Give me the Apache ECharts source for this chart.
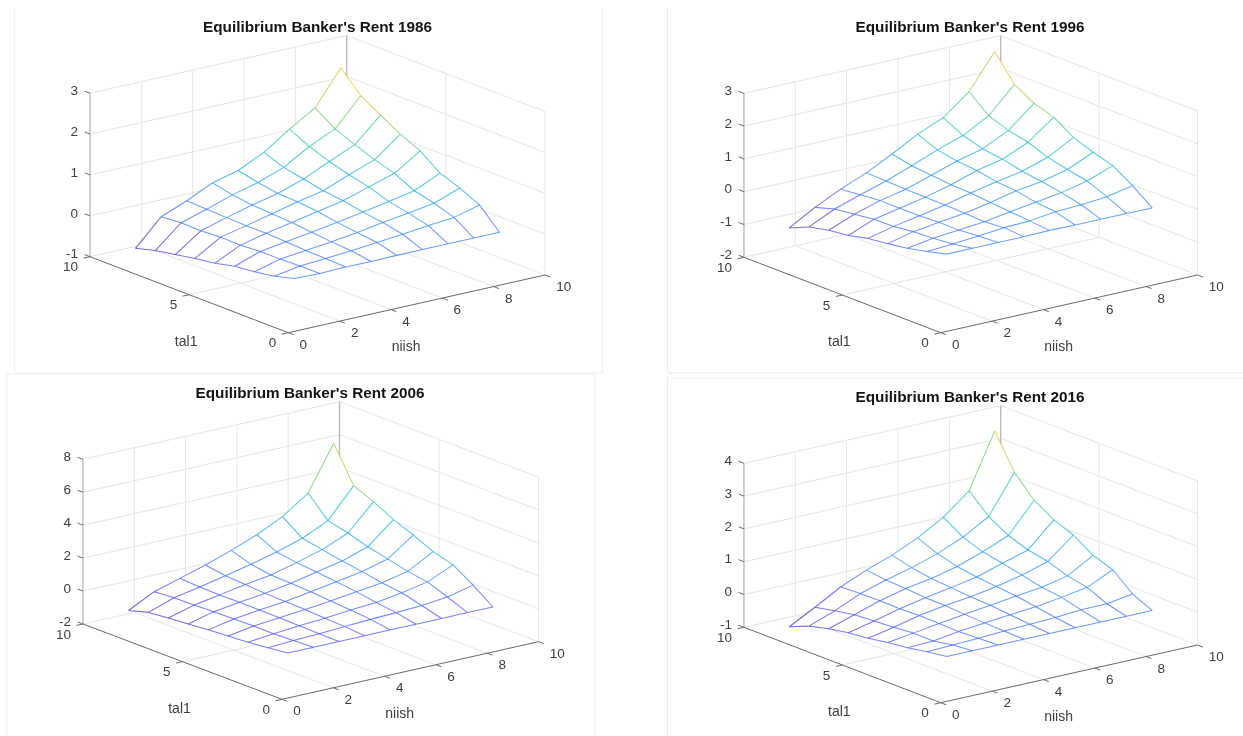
<!DOCTYPE html>
<html>
<head>
<meta charset="utf-8">
<style>html,body{margin:0;padding:0;background:#fff}#c{width:1243px;height:736px;filter:blur(0.35px)}</style>
<script src="https://cdn.jsdelivr.net/npm/echarts@6/dist/echarts.min.js"></script>
</head>
<body>
<div id="c"></div>
<script>
// Mesh nodes: niish = 1..9 (columns), tal1 = 1..9 (rows)
const niishNodes = [1,2,3,4,5,6,7,8,9];
const tal1Nodes = [1,2,3,4,5,6,7,8,9];

const rent1986 = [
 [0,-0.02,0,-0.01,0,0,0,0,0],
 [-0.13,-0.02,0.02,0.07,0.13,0.19,0.26,0.32,0.48],
 [-0.21,-0.04,0.03,0.10,0.19,0.29,0.38,0.48,0.71],
 [-0.26,-0.04,0.06,0.15,0.25,0.36,0.48,0.60,0.89],
 [-0.37,-0.07,0.08,0.20,0.33,0.45,0.65,0.84,1.25],
 [-0.44,-0.06,0.08,0.23,0.38,0.51,0.76,0.99,1.47],
 [-0.53,-0.09,0.09,0.26,0.40,0.61,0.90,1.17,1.75],
 [-0.62,-0.08,0.11,0.32,0.48,0.71,1.08,1.37,2.04],
 [-0.75,-0.12,0.13,0.43,0.59,0.89,1.32,1.70,2.54]
];
const rent1996 = [
 [-0.01,-0.01,-0.01,-0.01,0.01,0,0,0,-0.01],
 [-0.16,-0.11,-0.04,0.04,0.07,0.17,0.21,0.28,0.44],
 [-0.29,-0.16,-0.09,-0.01,0.12,0.23,0.35,0.53,0.82],
 [-0.38,-0.19,-0.08,0.02,0.17,0.35,0.46,0.65,1.00],
 [-0.45,-0.26,-0.11,0.04,0.23,0.40,0.54,0.79,1.22],
 [-0.59,-0.27,-0.11,0.05,0.25,0.51,0.68,1.02,1.61],
 [-0.66,-0.35,-0.11,0.06,0.31,0.57,0.77,1.15,1.80],
 [-0.79,-0.42,-0.16,0.08,0.37,0.68,0.94,1.37,2.15],
 [-1.05,-0.60,-0.22,0.10,0.50,0.93,1.26,1.87,2.92]
];
const rent2006 = [
 [0,0,0,0,0.02,0,0,0.02,0],
 [-0.13,-0.05,0.02,0.10,0.19,0.25,0.33,0.50,0.87],
 [-0.26,-0.09,0.05,0.15,0.30,0.41,0.65,0.96,1.64],
 [-0.34,-0.08,0.08,0.23,0.39,0.61,0.80,1.14,1.99],
 [-0.42,-0.11,0.09,0.25,0.50,0.75,1.02,1.44,2.54],
 [-0.52,-0.12,0.10,0.29,0.55,0.89,1.21,1.72,3.02],
 [-0.61,-0.18,0.09,0.37,0.60,1.00,1.44,2.10,3.65],
 [-0.73,-0.19,0.11,0.45,0.79,1.19,1.67,2.39,4.17],
 [-1.07,-0.28,0.18,0.64,1.18,1.78,2.53,3.61,6.28]
];
const rent2016 = [
 [0,0,0,0,0,0,0,0,0],
 [-0.08,-0.05,-0.02,0.02,0.05,0.08,0.14,0.15,0.27],
 [-0.19,-0.16,-0.05,0.04,0.11,0.18,0.29,0.42,0.78],
 [-0.26,-0.15,-0.03,0.07,0.17,0.28,0.37,0.54,0.99],
 [-0.36,-0.20,-0.02,0.11,0.20,0.34,0.51,0.75,1.38],
 [-0.42,-0.24,-0.04,0.12,0.25,0.40,0.64,0.87,1.61],
 [-0.53,-0.28,-0.03,0.17,0.30,0.49,0.76,1.08,1.98],
 [-0.68,-0.39,-0.04,0.20,0.40,0.65,0.98,1.43,2.60],
 [-0.93,-0.51,-0.07,0.27,0.55,0.90,1.36,1.98,3.63]
];

const titles = ["Equilibrium Banker's Rent 1986","Equilibrium Banker's Rent 1996","Equilibrium Banker's Rent 2006","Equilibrium Banker's Rent 2016"];
const zTicks1986 = [-1,0,1,2,3];
const zTicks1996 = [-2,-1,0,1,2,3];
const zTicks2006 = [-2,0,2,4,6,8];
const zTicks2016 = [-1,0,1,2,3,4];
const niishTicks = [0,2,4,6,8,10];
const tal1Ticks = [0,5,10];
const niishName = 'niish';
const tal1Name = 'tal1';

// Layout of the four panels: frame rectangle, visible frame sides and projected box corners (px)
const panels = [
 {data:rent1986, zTicks:zTicks1986, title:titles[0], frame:[14.7,8,588,365], sides:'lrb', tc:317.5, ty:28,
  front:[288.3,332.7], right:[545,275], left:[90,256.7], zh:163.5},
 {data:rent1996, zTicks:zTicks1996, title:titles[1], frame:[667.5,8,576,365], sides:'lb', tc:970, ty:28,
  front:[941,332.7], right:[1198,275], left:[744,257.3], zh:164},
 {data:rent2006, zTicks:zTicks2006, title:titles[2], frame:[6.8,374,588,362], sides:'ltr', tc:310, ty:394,
  front:[282,699.3], right:[538.5,641.7], left:[83,624], zh:164.7},
 {data:rent2016, zTicks:zTicks2016, title:titles[3], frame:[667.5,378,576,358], sides:'lt', tc:970, ty:398,
  front:[941,702.7], right:[1198,645], left:[744,627.3], zh:164}
];

const parula = [[0.2422,0.1504,0.6603],[0.2810,0.3228,0.9579],[0.1786,0.5289,0.9682],[0.0689,0.6948,0.8394],
 [0.2161,0.7843,0.5923],[0.6720,0.7793,0.2227],[0.9970,0.7659,0.2199],[0.9769,0.9839,0.0805]];
function cmap(t){
  t=Math.max(0,Math.min(1,t))*(parula.length-1);
  const a=Math.floor(t),b=Math.min(a+1,parula.length-1),f=t-a;
  const c=[0,1,2].map(k=>Math.round(255*(parula[a][k]*(1-f)+parula[b][k]*f)));
  return 'rgb('+c.join(',')+')';
}

function projector(p){
  const zmin=p.zTicks[0], zmax=p.zTicks[p.zTicks.length-1];
  const ex=[p.right[0]-p.front[0],p.right[1]-p.front[1]], ey=[p.left[0]-p.front[0],p.left[1]-p.front[1]];
  return function(x,y,z){
    const h=(z-zmin)/(zmax-zmin)*p.zh;
    return [p.front[0]+ex[0]*x/10+ey[0]*y/10-p.frame[0], p.front[1]+ex[1]*x/10+ey[1]*y/10-h-p.frame[1]];
  };
}

const option={animation:false,backgroundColor:'#fff',title:[],grid:[],xAxis:[],yAxis:[],series:[]};
const GRID='#e6e6e6',AXIS='#6a6a6a',TXT='#404040',FONT='"Liberation Sans",Arial,sans-serif';
const STROKES=[GRID,AXIS,'#bcbcbc','#ededed'];

panels.forEach((p,k)=>{
  const P=projector(p), f=p.frame, zs=p.zTicks, zmin=zs[0], zmax=zs[zs.length-1];
  option.title.push({text:p.title,left:p.tc,top:p.ty,padding:0,textAlign:'center',textVerticalAlign:'middle',
    textStyle:{fontFamily:FONT,fontSize:15.3,fontWeight:'bold',color:'#151515'}});
  option.grid.push({left:f[0],top:f[1],width:f[2],height:f[3],show:false});
  option.xAxis.push({type:'value',gridIndex:k,min:0,max:f[2],show:false});
  option.yAxis.push({type:'value',gridIndex:k,min:0,max:f[3],inverse:true,show:false});

  // box, ticks and frame: [u1,v1,u2,v2,kind]
  const seg=[];
  if(p.sides.includes('l')) seg.push([0,0,0,f[3],3]);
  if(p.sides.includes('r')) seg.push([f[2],0,f[2],f[3],3]);
  if(p.sides.includes('t')) seg.push([0,0,f[2],0,3]);
  if(p.sides.includes('b')) seg.push([0,f[3],f[2],f[3],3]);
  const add=(a,b,kind)=>seg.push([...P(...a),...P(...b),kind]);
  zs.forEach(z=>{add([0,10,z],[10,10,z],0);add([10,10,z],[10,0,z],0);});
  niishTicks.slice(1,-1).forEach(x=>{add([x,10,zmin],[x,10,zmax],0);add([x,0,zmin],[x,10,zmin],0);});
  tal1Ticks.slice(1,-1).forEach(y=>{add([10,y,zmin],[10,y,zmax],0);add([0,y,zmin],[10,y,zmin],0);});
  add([10,0,zmin],[10,0,zmax],0);
  add([10,10,zmin],[10,10,zmax],2);
  add([0,10,zmin],[0,10,zmax],2);
  add([0,0,zmin],[10,0,zmin],1);
  add([0,0,zmin],[0,10,zmin],1);
  zs.forEach(z=>add([0,10,z],[0,10.27,z],1));
  niishTicks.forEach(x=>add([x,0,zmin],[x,-0.27,zmin],1));
  tal1Ticks.forEach(y=>add([0,y,zmin],[-0.25,y,zmin],1));
  option.series.push({type:'custom',name:'box'+k,xAxisIndex:k,yAxisIndex:k,silent:true,z:1,data:seg,
    renderItem:(params,api)=>{
      const a=api.coord([api.value(0),api.value(1)]),b=api.coord([api.value(2),api.value(3)]),kd=api.value(4);
      return {type:'line',shape:{x1:a[0],y1:a[1],x2:b[0],y2:b[1]},
        style:{stroke:STROKES[kd],lineWidth:kd===2?1.4:1}};
    }});

  // mesh faces are white and hide the walls behind them
  const all=[].concat(...p.data), lo=Math.min(...all), hi=Math.max(...all);
  const node=(i,j)=>P(niishNodes[i],tal1Nodes[j],p.data[j][i]);
  const cells=[], edges=[], n=niishNodes.length, m=tal1Nodes.length;
  for(let j=m-1;j>=0;j--) for(let i=n-1;i>=0;i--){
    if(i<n-1&&j<m-1) cells.push([...node(i,j),...node(i+1,j),...node(i+1,j+1),...node(i,j+1)]);
    // each edge takes the colour of its lower-index vertex
    if(i<n-1) edges.push([...node(i,j),...node(i+1,j),p.data[j][i]]);
    if(j<m-1) edges.push([...node(i,j),...node(i,j+1),p.data[j][i]]);
  }
  option.series.push({type:'custom',name:'faces'+k,xAxisIndex:k,yAxisIndex:k,silent:true,z:2,data:cells,
    renderItem:(params,api)=>{
      const pts=[0,1,2,3].map(c=>api.coord([api.value(2*c),api.value(2*c+1)]));
      return {type:'polygon',shape:{points:pts},style:{fill:'#fff',stroke:null}};
    }});
  option.series.push({type:'custom',name:p.title,xAxisIndex:k,yAxisIndex:k,silent:true,z:3,data:edges,
    renderItem:(params,api)=>{
      const a=api.coord([api.value(0),api.value(1)]),b=api.coord([api.value(2),api.value(3)]);
      return {type:'line',shape:{x1:a[0],y1:a[1],x2:b[0],y2:b[1]},
        style:{lineWidth:1.05,opacity:0.72,stroke:cmap((api.value(4)-lo)/(hi-lo))}};
    }});

  // text
  const lab=[];
  zs.forEach(z=>{const q=P(0,10,z);lab.push([q[0]-12,q[1]-2,String(z),'right',13.5]);});
  niishTicks.forEach(x=>{const q=P(x,0,zmin);lab.push([q[0]+11.3,q[1]+12.3,String(x),'left',13.5]);});
  tal1Ticks.forEach(y=>{const q=P(0,y,zmin);lab.push([q[0]-12,q[1]+11,String(y),'right',13.5]);});
  const q1=P(5,0,zmin),q2=P(0,5,zmin);
  lab.push([q1[0]-10.6,q1[1]+43.5,niishName,'center',14]);
  lab.push([q2[0]-3,q2[1]+47.6,tal1Name,'center',14]);
  option.series.push({type:'custom',name:'labels'+k,xAxisIndex:k,yAxisIndex:k,silent:true,z:4,data:lab,
    dimensions:[{name:'u',type:'number'},{name:'v',type:'number'},{name:'t',type:'ordinal'},{name:'a',type:'ordinal'},{name:'s',type:'number'}],
    renderItem:(params,api)=>{
      const d=lab[params.dataIndex],c=api.coord([d[0],d[1]]);
      return {type:'text',style:{text:d[2],x:c[0],y:c[1],align:d[3],verticalAlign:'middle',fill:TXT,font:d[4]+'px '+FONT}};
    }});
});

echarts.init(document.getElementById('c'),null,{renderer:'canvas'}).setOption(option);
</script>
</body>
</html>
